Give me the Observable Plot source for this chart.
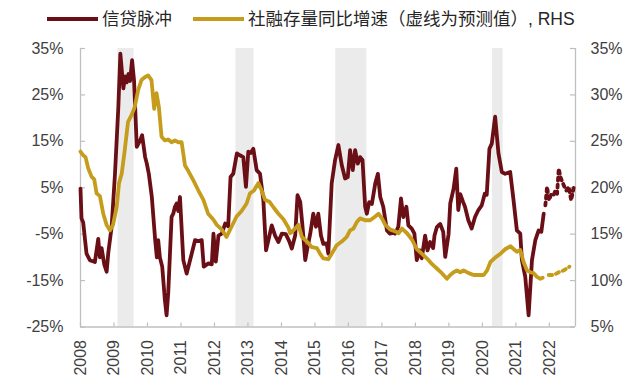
<!DOCTYPE html>
<html><head><meta charset="utf-8">
<script src="https://cdn.jsdelivr.net/npm/d3@7"></script>
<script src="https://cdn.jsdelivr.net/npm/@observablehq/plot@0.6"></script>
<style>
body{margin:0;background:#fff;font-family:"Liberation Sans","Noto Sans CJK SC",sans-serif;}
#legend{position:relative;height:34px;width:640px;}
#legend .sw{position:absolute;top:17px;height:4px;width:51px;}
#legend .tx{position:absolute;top:8px;font-size:17.5px;line-height:22px;color:#262626;white-space:nowrap;font-family:"Liberation Sans","Noto Sans CJK SC",sans-serif;}
</style></head><body>
<div id="legend"></div>
<div id="chart"></div>
<script>
// ---- data ----
const legendLabels = ["信贷脉冲", "社融存量同比增速（虚线为预测值）, RHS"];
const seriesColors = ["#6B0F16", "#C69C1C"];
const yearTicks = [2008, 2009, 2010, 2011, 2012, 2013, 2014, 2015, 2016, 2017, 2018, 2019, 2020, 2021, 2022];
const leftTicks = [-25, -15, -5, 5, 15, 25, 35];
const rightTicks = [5, 10, 15, 20, 25, 30, 35];
const shadedPeriods = [[2009.12, 2009.60], [2012.64, 2013.18], [2015.62, 2016.55], [2020.30, 2020.62]];

// credit impulse (%, LHS), [decimal year, value]
const impulseActual = [
[2008.00,4.8],[2008.03,-1.6],[2008.08,-2.5],[2008.18,-9.2],[2008.28,-10.6],[2008.43,-11],[2008.53,-6],[2008.58,-10],
[2008.63,-8],[2008.71,-11.5],[2008.78,-13.1],[2008.83,-9],[2008.93,-3.4],[2009.03,8],[2009.13,22.4],[2009.19,33.9],
[2009.28,26.4],[2009.33,29],[2009.38,27.7],[2009.43,29.5],[2009.48,28],[2009.54,32.5],[2009.60,28],[2009.68,13.8],
[2009.78,15.2],[2009.84,16.3],[2009.93,11.6],[2009.98,10.2],[2010.04,8],[2010.13,3],[2010.23,-6.3],[2010.28,-10],
[2010.32,-6.3],[2010.37,-10],[2010.44,-12],[2010.52,-19.2],[2010.57,-22.5],[2010.62,-17.6],[2010.72,-1.3],[2010.77,-0.6],
[2010.82,0.9],[2010.87,1.6],[2010.92,0],[2010.97,3],[2011.07,-10.6],[2011.17,-13.5],[2011.32,-9.2],[2011.42,-6.3],
[2011.52,-6.5],[2011.62,-6.3],[2011.68,-12],[2011.82,-11.3],[2011.92,-11.5],[2011.97,-4.9],[2012.04,-10.9],[2012.12,-5.3],
[2012.22,-4.9],[2012.32,-2.7],[2012.41,-3.3],[2012.48,7.3],[2012.56,8],[2012.67,12.4],[2012.76,12],[2012.86,11.6],
[2012.94,5.2],[2013.01,12.8],[2013.08,12.5],[2013.16,13.4],[2013.26,8.8],[2013.36,8],[2013.46,2.3],[2013.54,-8.5],
[2013.61,-6.3],[2013.71,-3.1],[2013.81,-5.3],[2013.91,-6.7],[2014.01,-4.9],[2014.13,-5],[2014.23,-6.5],[2014.31,-8.1],
[2014.41,-5.3],[2014.48,3.4],[2014.56,2],[2014.63,-3.4],[2014.71,-10.6],[2014.78,-7.8],[2014.86,-4.9],[2014.95,-0.6],
[2015.03,-3.4],[2015.10,-0.6],[2015.18,-5.3],[2015.25,-7.1],[2015.35,-7],[2015.40,-9.2],[2015.50,5.9],[2015.60,10.9],
[2015.70,14.2],[2015.80,9.9],[2015.90,7],[2015.98,7.3],[2016.05,13.1],[2016.13,8.8],[2016.20,13.1],[2016.28,10.2],
[2016.35,11.6],[2016.42,11],[2016.50,0.9],[2016.55,-0.6],[2016.62,1.9],[2016.70,1.5],[2016.80,5.9],[2016.88,8],
[2016.95,3],[2017.04,0.9],[2017.15,-4.2],[2017.24,-4.9],[2017.34,-4.7],[2017.39,-4.9],[2017.49,-3.4],[2017.57,2.7],
[2017.64,-1.3],[2017.73,0.9],[2017.79,-3.1],[2017.89,-3.8],[2017.97,-4.9],[2018.04,-10.6],[2018.13,-8.5],[2018.19,-10.2],
[2018.29,-5.3],[2018.36,-8.5],[2018.44,-6.7],[2018.53,-8],[2018.57,-5.3],[2018.64,-3.5],[2018.74,-2.8],[2018.83,-4.5],
[2018.89,-9.9],[2018.99,-5],[2019.04,1.6],[2019.14,4.8],[2019.22,9.1],[2019.28,0.2],[2019.34,3.6],[2019.42,2],
[2019.48,0.9],[2019.58,-2],[2019.68,-3.8],[2019.78,-1.3],[2019.88,0.2],[2019.98,1.2],[2020.07,3.7],[2020.13,3.5],
[2020.21,13.4],[2020.28,14.5],[2020.38,20.3],[2020.48,12.4],[2020.58,8.4],[2020.68,8],[2020.83,8.4],[2020.93,2.3],
[2021.03,-4.2],[2021.13,-4.9],[2021.18,-10.6],[2021.28,-14.2],[2021.38,-22.5],[2021.48,-10.6],[2021.58,-6.3],[2021.68,-4.2],
[2021.76,-4.5],[2021.83,-0.6]
];
const impulseForecast = [
[2021.88,1.2],[2021.93,5.2],[2021.99,2.3],[2022.06,3.7],[2022.13,3.5],[2022.18,4.4],[2022.23,3.7],[2022.28,9.1],
[2022.33,7.3],[2022.43,5.5],[2022.51,4.4],[2022.58,5.2],[2022.65,2.3],[2022.73,5.2]
];

// total social financing stock growth (%, RHS), [decimal year, value]
const tsfActual = [
[2008.00,23.9],[2008.08,23.5],[2008.15,23.3],[2008.23,22.1],[2008.33,21.2],[2008.41,20.9],[2008.48,19.4],[2008.58,19.1],
[2008.68,17.2],[2008.78,16],[2008.88,15.4],[2008.97,16],[2009.08,17.9],[2009.15,20.5],[2009.23,21.5],[2009.32,24],
[2009.42,27.1],[2009.52,27.8],[2009.62,28.7],[2009.72,30.5],[2009.82,31.6],[2009.92,31.9],[2010.02,32.1],[2010.12,31.6],
[2010.20,28.5],[2010.27,30.2],[2010.34,28.7],[2010.42,25.5],[2010.52,25.1],[2010.62,25.2],[2010.72,24.9],[2010.82,25.1],
[2010.92,24.9],[2011.02,24.9],[2011.12,22.4],[2011.22,21.8],[2011.37,20.8],[2011.52,19.7],[2011.67,18.7],[2011.81,17.2],
[2011.96,16.6],[2012.07,16],[2012.22,15.5],[2012.36,14.7],[2012.51,15.8],[2012.66,16.9],[2012.81,17.5],[2012.96,18.3],
[2013.06,19.4],[2013.18,19.7],[2013.31,20.5],[2013.41,19.7],[2013.51,18.7],[2013.64,18.5],[2013.76,17.9],[2013.91,17.2],
[2014.06,16.6],[2014.21,15.7],[2014.26,15.1],[2014.41,15.6],[2014.51,16],[2014.61,14.7],[2014.76,14.2],[2014.91,13.6],
[2015.06,13.5],[2015.15,12.9],[2015.25,12.4],[2015.40,12.3],[2015.50,12.9],[2015.65,13.8],[2015.80,14.2],[2015.95,14.7],
[2016.05,15.4],[2016.15,15.6],[2016.25,16.3],[2016.35,16.7],[2016.50,16.5],[2016.65,16.5],[2016.80,16.9],[2016.90,17.2],
[2017.00,16.7],[2017.10,16],[2017.25,15.5],[2017.40,15.3],[2017.50,15.1],[2017.60,15.6],[2017.75,15.1],[2017.90,14.4],
[2018.04,13.4],[2018.19,12.9],[2018.34,12.4],[2018.49,11.8],[2018.64,11.3],[2018.79,10.8],[2018.94,10.2],[2019.04,10.6],
[2019.14,10.9],[2019.24,11.1],[2019.34,10.9],[2019.44,11.1],[2019.59,10.8],[2019.74,10.6],[2019.89,10.6],[2020.04,10.6],
[2020.14,11.1],[2020.24,12],[2020.39,12.5],[2020.54,12.9],[2020.69,13.4],[2020.84,13.7],[2020.93,13.4],[2021.03,13.1],
[2021.13,13.3],[2021.23,12],[2021.33,11.1],[2021.43,10.9],[2021.53,10.8],[2021.63,10.4],[2021.73,10.2],[2021.80,10.3]
];
const tsfForecast = [
[2021.98,10.6],[2022.13,10.6],[2022.28,10.9],[2022.43,11.1],[2022.60,11.5]
];

// ---- layout ----
const W = 640, H = 346, mT = 14, mB = 53.5, mL = 80, mR = 65;
const frameH = H - mT - mB, frameW = W - mL - mR;
const xDomain = [2008, 2022.78];
const yDomain = [-25, 35];
const toLeft = r => (r - 5) * 2 - 25;     // RHS value -> LHS scale units
const fromLeft = l => (l + 25) / 2 + 5;
const axisColor = "#BFBFBF";
const textColor = "#404040";

// legend
const lg = document.getElementById("legend");
const legendPos = [[47, 102], [193, 248]];
legendLabels.forEach((lab, i) => {
  const sw = document.createElement("div");
  sw.className = "sw"; sw.style.left = legendPos[i][0] + "px"; sw.style.background = seriesColors[i];
  const tx = document.createElement("div");
  tx.className = "tx"; tx.style.left = legendPos[i][1] + "px"; tx.textContent = lab;
  lg.appendChild(sw); lg.appendChild(tx);
});

const X = d => d[0];
const chart = Plot.plot({
  width: W, height: H,
  marginTop: mT, marginBottom: mB, marginLeft: mL, marginRight: mR,
  style: {fontFamily: "'Liberation Sans', Arial, sans-serif", fontSize: "16px", color: textColor, background: "#fff"},
  x: {domain: xDomain},
  y: {domain: yDomain},
  marks: [
    Plot.rect(shadedPeriods, {x1: d => d[0], x2: d => d[1], fill: "#EBEBEB"}),
    Plot.ruleX([xDomain[0], xDomain[1]], {stroke: axisColor, strokeWidth: 1.3}),
    Plot.ruleY([yDomain[0]], {stroke: axisColor, strokeWidth: 1.3}),
    Plot.tickX(yearTicks, {x: d => d, stroke: axisColor, strokeWidth: 1.2, insetTop: frameH - 4}),
    Plot.tickY(leftTicks, {y: d => d, stroke: axisColor, strokeWidth: 1.2, insetRight: frameW - 5}),
    Plot.tickY(leftTicks, {y: d => d, stroke: axisColor, strokeWidth: 1.2, insetLeft: frameW - 5}),
    Plot.axisX(yearTicks, {tickSize: 0, tickPadding: 13, tickRotate: -90, tickFormat: d => String(d), label: null, fontSize: 16, fill: textColor}),
    Plot.axisY(leftTicks, {anchor: "left", tickSize: 0, tickPadding: 17, tickFormat: d => d + "%", label: null, fontSize: 16, fill: textColor}),
    Plot.axisY(rightTicks.map(toLeft), {anchor: "right", tickSize: 0, tickPadding: 15, tickFormat: d => fromLeft(d) + "%", label: null, fontSize: 16, fill: textColor}),
    Plot.line(impulseActual, {x: X, y: d => d[1], stroke: seriesColors[0], strokeWidth: 3.8, strokeLinejoin: "round"}),
    Plot.line(impulseForecast, {x: X, y: d => d[1], stroke: seriesColors[0], strokeWidth: 3.8, strokeDasharray: "3,4"}),
    Plot.line(tsfActual, {x: X, y: d => toLeft(d[1]), stroke: seriesColors[1], strokeWidth: 3.8, strokeLinejoin: "round"}),
    Plot.line(tsfForecast, {x: X, y: d => toLeft(d[1]), stroke: seriesColors[1], strokeWidth: 3.8, strokeDasharray: "3.5,4"})
  ]
});
document.getElementById("chart").appendChild(chart);
</script>
</body></html>
